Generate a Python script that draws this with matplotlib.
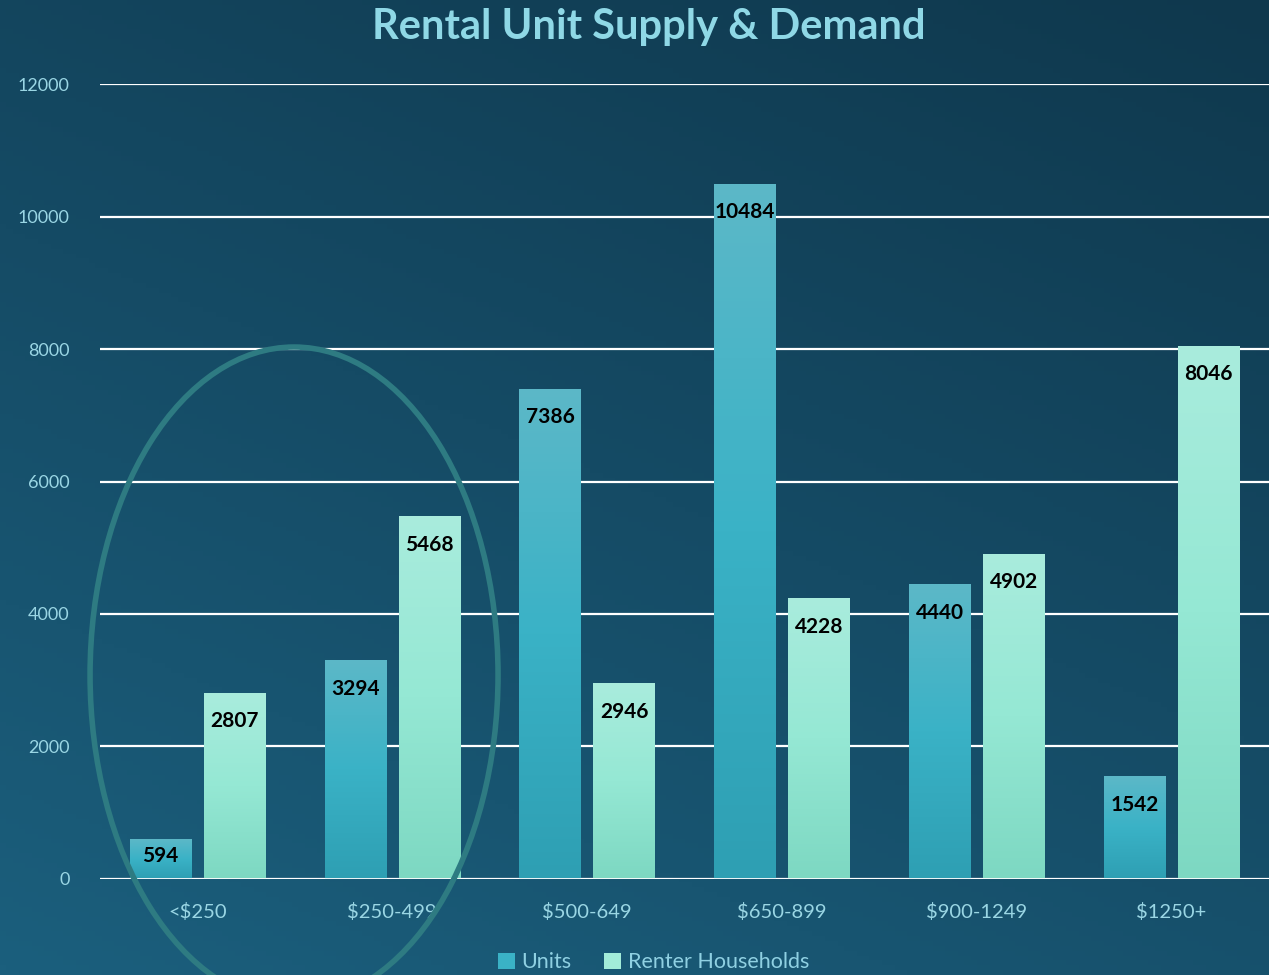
import numpy as np
import matplotlib.pyplot as plt
from matplotlib.patches import Ellipse, Patch
from matplotlib.colors import LinearSegmentedColormap

categories = ['<$250', '$250-499', '$500-649', '$650-899', '$900-1249', '$1250+']
units = [594, 3294, 7386, 10484, 4440, 1542]
renters = [2807, 5468, 2946, 4228, 4902, 8046]

plt.rcParams['font.family'] = ['Lato', 'DejaVu Sans']

fig = plt.figure(figsize=(12.69, 9.75), dpi=100)

# background gradient (lighter bottom-left, darker top-right)
bg = fig.add_axes([0, 0, 1, 1])
bg.axis('off')
yy, xx = np.mgrid[0:1:200j, 0:1:200j]
bg_cmap = LinearSegmentedColormap.from_list('bg', ['#1b5f7d', '#154b65', '#0f384d'])
bg.imshow(0.65 * yy + 0.35 * xx, cmap=bg_cmap, aspect='auto', extent=[0, 1, 0, 1], origin='lower')
bg.set_xlim(0, 1)
bg.set_ylim(0, 1)

ax = fig.add_axes([0.0788, 0.0985, 0.9212, 0.8153])
ax.set_facecolor('none')

units_cmap = LinearSegmentedColormap.from_list('u', ['#2e9fb3', '#3ab2c6', '#5cb8c8'])
rent_cmap = LinearSegmentedColormap.from_list('r', ['#7dd8c2', '#95e8d4', '#a9ecdd'])

x = np.arange(len(categories))
w = 0.315
off = 0.19
grad = np.linspace(0, 1, 256).reshape(-1, 1)


def draw_bars(xs, vals, cmap):
    for xi, v in zip(xs, vals):
        ax.imshow(grad, cmap=cmap, aspect='auto', origin='lower',
                  extent=[xi - w / 2, xi + w / 2, 0, v], zorder=3)
        # value label inside top of bar
        dy = -20 if v > 1500 else -12
        ax.annotate(str(v), (xi, v), xytext=(0, dy), textcoords='offset points',
                    ha='center', va='center', fontsize=15, fontweight='bold',
                    color='black', zorder=5)


draw_bars(x - off, units, units_cmap)
draw_bars(x + off, renters, rent_cmap)
ax.set_xlim(-0.5, 5.5)
ax.set_ylim(0, 12000)

ax.set_yticks(range(0, 12001, 2000))
ax.grid(axis='y', color='white', linewidth=1.6, zorder=1)
ax.set_axisbelow(True)
for s in ax.spines.values():
    s.set_visible(False)
ax.axhline(0, color='white', linewidth=2, zorder=4)
ax.set_xticks(x)
ax.set_xticklabels(categories)
ax.tick_params(axis='both', length=0, colors='#9ad6e4')
ax.tick_params(axis='y', labelsize=13, pad=22)
ax.tick_params(axis='x', labelsize=14.5, pad=17)

ell = Ellipse((0.496, 3079), 2.094, 9902, fill=False, edgecolor='#2e7b82',
              linewidth=4, zorder=6, clip_on=False)
ax.add_patch(ell)

fig.text(0.511, 0.972, 'Rental Unit Supply & Demand', ha='center', va='center',
         fontsize=30, fontweight='bold', color='#8fd8e6')

handles = [Patch(facecolor='#3ab2c6', label='Units'),
           Patch(facecolor='#a2ecd9', label='Renter Households')]
fig.legend(handles=handles, loc='center', bbox_to_anchor=(0.515, 0.013), ncol=2,
           frameon=False, fontsize=15.5, labelcolor='#8fd0e2', handlelength=0.8,
           handleheight=0.8, handletextpad=0.3, columnspacing=1.5)

plt.savefig('out.png', dpi=100)
